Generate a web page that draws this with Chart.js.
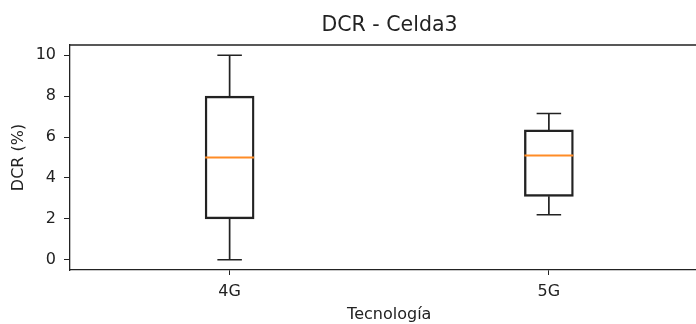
<!DOCTYPE html>
<html>
<head>
<meta charset="utf-8">
<style>
  html, body { margin: 0; padding: 0; overflow: hidden; background: #fff; }
  #wrap { position: absolute; left: 0; top: 0; width: 779px; height: 324px; }
</style>
<script src="https://cdn.jsdelivr.net/npm/chart.js@4/dist/chart.umd.min.js"></script>
</head>
<body>
<div id="wrap"><canvas id="c" width="779" height="324"></canvas></div>
<script>
// Box plot summary per technology
const categories = ['4G', '5G'];
const q1 = [2, 3.1];
const q3 = [8, 6.35];
const medians = [5, 5.1];
const lowWhisker = [0, 2.2];
const highWhisker = [10, 7.15];
const yTicks = [0, 2, 4, 6, 8, 10];

const INK = '#222';
const FONT = 'DejaVu Sans';

// Whiskers, caps, medians and the top/right spines, drawn from the scales
const boxWhiskers = {
  id: 'boxWhiskers',
  afterDatasetsDraw(chart) {
    const ctx = chart.ctx;
    const y = chart.scales.y;
    const meta = chart.getDatasetMeta(0);
    ctx.save();
    ctx.lineCap = 'butt';
    meta.data.forEach((bar, i) => {
      const cx = bar.x;
      const half = bar.width / 2;
      const capHalf = half / 2;
      ctx.strokeStyle = INK;
      ctx.lineWidth = 1.7;
      ctx.beginPath();
      ctx.moveTo(cx, y.getPixelForValue(q3[i]));
      ctx.lineTo(cx, y.getPixelForValue(highWhisker[i]));
      ctx.moveTo(cx, y.getPixelForValue(q1[i]));
      ctx.lineTo(cx, y.getPixelForValue(lowWhisker[i]));
      ctx.moveTo(cx - capHalf, y.getPixelForValue(highWhisker[i]));
      ctx.lineTo(cx + capHalf, y.getPixelForValue(highWhisker[i]));
      ctx.moveTo(cx - capHalf, y.getPixelForValue(lowWhisker[i]));
      ctx.lineTo(cx + capHalf, y.getPixelForValue(lowWhisker[i]));
      ctx.stroke();
      ctx.strokeStyle = '#ff8c26';
      ctx.lineWidth = 2;
      ctx.beginPath();
      const my = y.getPixelForValue(medians[i]);
      ctx.moveTo(cx - half, my);
      ctx.lineTo(cx + half, my);
      ctx.stroke();
    });
    const a = chart.chartArea;
    ctx.strokeStyle = INK;
    ctx.lineWidth = 1.3;
    ctx.beginPath();
    ctx.moveTo(a.left, a.top);
    ctx.lineTo(a.right, a.top);
    ctx.lineTo(a.right, a.bottom);
    ctx.stroke();
    ctx.restore();
  }
};

new Chart(document.getElementById('c'), {
  type: 'bar',
  data: {
    labels: categories,
    datasets: [{
      data: categories.map((c, i) => [q1[i], q3[i]]),
      backgroundColor: 'rgba(0,0,0,0)',
      borderColor: INK,
      borderWidth: 1.7,
      borderSkipped: false,
      barThickness: 49
    }]
  },
  options: {
    responsive: false,
    animation: false,
    layout: { padding: 0 },
    plugins: {
      legend: { display: false },
      tooltip: { enabled: false },
      title: {
        display: true,
        text: 'DCR - Celda3',
        color: INK,
        font: { family: FONT, size: 20.5, weight: 'normal' },
        padding: { top: 13, bottom: 7.4 }
      }
    },
    scales: {
      x: {
        offset: true,
        afterFit(s) { s.height = 54; },
        grid: { display: true, drawOnChartArea: false, drawTicks: true, tickLength: 5, color: INK, offset: false },
        border: { display: true, color: INK, width: 1.3 },
        ticks: { color: INK, font: { family: FONT, size: 16 }, padding: 7, maxRotation: 0 },
        title: { display: true, text: 'Tecnología', color: INK, font: { family: FONT, size: 16 }, padding: { top: 2, bottom: 0 } }
      },
      y: {
        min: -0.5,
        max: 10.5,
        afterFit(s) { s.width = 70; },
        afterBuildTicks(s) { s.ticks = yTicks.map(v => ({ value: v })); },
        grid: { display: true, drawOnChartArea: false, drawTicks: true, tickLength: 6, color: INK },
        border: { display: true, color: INK, width: 1.3 },
        ticks: { color: INK, font: { family: FONT, size: 16 }, padding: 8 },
        title: { display: true, text: 'DCR (%)', color: INK, font: { family: FONT, size: 16 }, padding: { top: 9, bottom: 0 } }
      },
      // blank right-hand margin so the title centres over the plot area
      margin: {
        type: 'linear',
        position: 'right',
        afterFit(s) { s.width = 70.5; },
        grid: { display: false },
        border: { display: false },
        ticks: { display: false },
        title: { display: false }
      }
    }
  },
  plugins: [boxWhiskers]
});
</script>
</body>
</html>
